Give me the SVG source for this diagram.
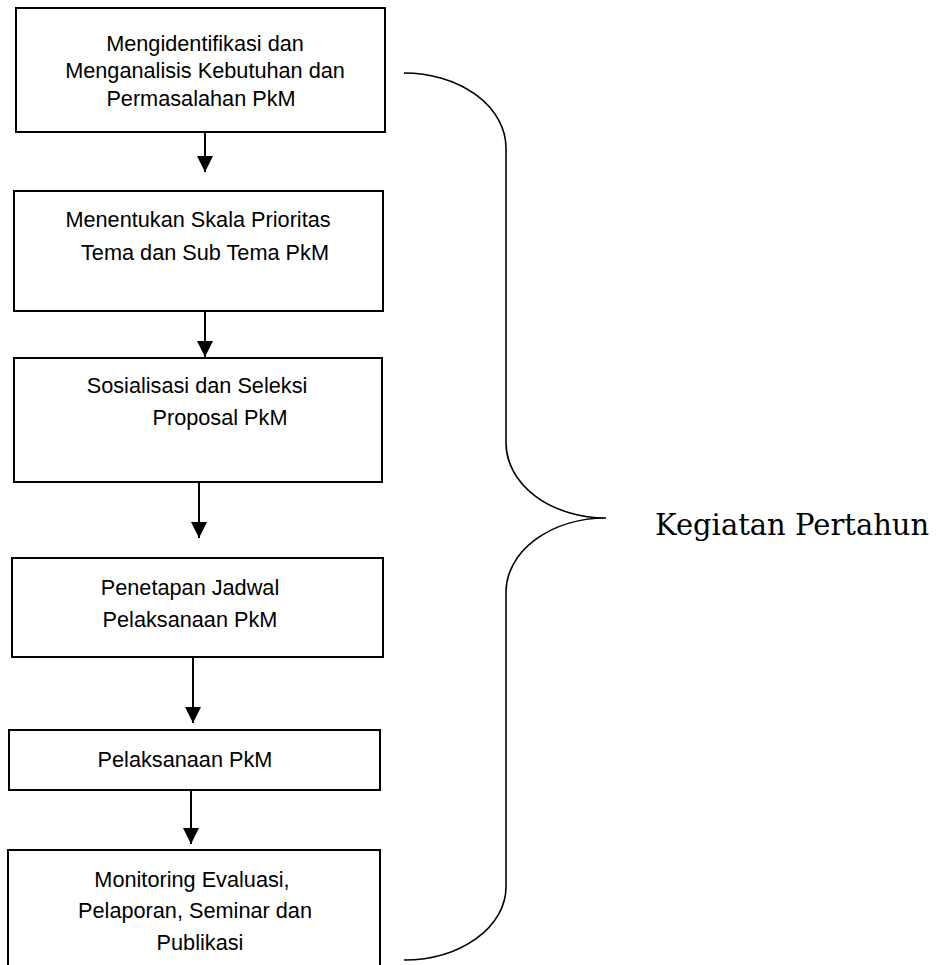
<svg xmlns="http://www.w3.org/2000/svg" width="949" height="965" viewBox="0 0 949 965">
<style>
.box{fill:#fff;stroke:#000;stroke-width:2}
.t{font-family:"Liberation Sans",Arial,sans-serif;font-size:21.7px;fill:#000;text-anchor:middle}
.conn{stroke:#000;stroke-width:2;fill:none}
.brace{stroke:#000;stroke-width:1.6;fill:none}
.lbl{font-family:"DejaVu Serif","Liberation Serif",serif;font-size:29px;fill:#000}
</style>
<defs>
<marker id="ah" markerUnits="userSpaceOnUse" markerWidth="16" markerHeight="16" refX="16" refY="8" orient="auto">
<path d="M0,0 L16,8 L0,16 Z" fill="#000"/>
</marker>
</defs>
<rect width="949" height="965" fill="#fff"/>
<g id="n1">
<rect class="box" x="16" y="8" width="369" height="124"/>
<text class="t" x="205" y="51">Mengidentifikasi dan</text>
<text class="t" x="205" y="78">Menganalisis Kebutuhan dan</text>
<text class="t" x="201" y="106">Permasalahan PkM</text>
</g>
<g id="n2">
<rect class="box" x="14" y="191" width="369" height="120"/>
<text class="t" x="198" y="227">Menentukan Skala Prioritas</text>
<text class="t" x="205" y="260">Tema dan Sub Tema PkM</text>
</g>
<g id="n3">
<rect class="box" x="14" y="358" width="368" height="124"/>
<text class="t" x="197" y="393">Sosialisasi dan Seleksi</text>
<text class="t" x="220" y="425">Proposal PkM</text>
</g>
<g id="n4">
<rect class="box" x="12" y="558" width="371" height="99"/>
<text class="t" x="190" y="595">Penetapan Jadwal</text>
<text class="t" x="190" y="627">Pelaksanaan PkM</text>
</g>
<g id="n5">
<rect class="box" x="9" y="730" width="371" height="60"/>
<text class="t" x="185" y="767">Pelaksanaan PkM</text>
</g>
<g id="n6">
<rect class="box" x="8" y="850" width="372" height="130"/>
<text class="t" x="192" y="887">Monitoring Evaluasi,</text>
<text class="t" x="195" y="918">Pelaporan, Seminar dan</text>
<text class="t" x="200" y="950">Publikasi</text>
</g>
<g id="connectors">
<line class="conn" x1="205" y1="133" x2="205" y2="172" marker-end="url(#ah)"/>
<line class="conn" x1="205" y1="312" x2="205" y2="357" marker-end="url(#ah)"/>
<line class="conn" x1="199" y1="483" x2="199" y2="538" marker-end="url(#ah)"/>
<line class="conn" x1="193" y1="658" x2="193" y2="723" marker-end="url(#ah)"/>
<line class="conn" x1="191" y1="791" x2="191" y2="844" marker-end="url(#ah)"/>
</g>
<g id="brace">
<path class="brace" d="M404,73 A102,75 0 0 1 506,148 V443 A100,75 0 0 0 606,518 A100,74 0 0 0 506,592 V887 A102,73 0 0 1 404,960"/>
</g>
<g id="label">
<text class="lbl" x="655" y="535">Kegiatan Pertahun</text>
</g>
</svg>
